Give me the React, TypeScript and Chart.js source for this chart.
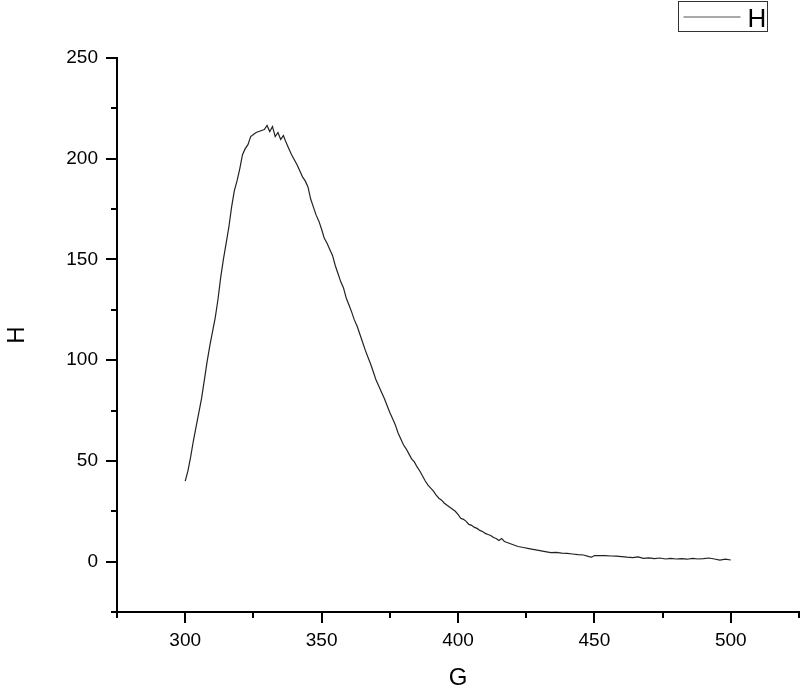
import React, { useEffect, useRef } from "react";
import { Chart, registerables } from "chart.js";

Chart.register(...registerables);

const gValues: number[] = [
  300, 301, 302, 303, 304, 305, 306, 307, 308, 309,
  310, 311, 312, 313, 314, 315, 316, 317, 318, 319,
  320, 321, 322, 323, 324, 325, 326, 327, 328, 329,
  330, 331, 332, 333, 334, 335, 336, 337, 338, 339,
  340, 341, 342, 343, 344, 345, 346, 347, 348, 349,
  350, 351, 352, 353, 354, 355, 356, 357, 358, 359,
  360, 361, 362, 363, 364, 365, 366, 367, 368, 369,
  370, 371, 372, 373, 374, 375, 376, 377, 378, 379,
  380, 381, 382, 383, 384, 385, 386, 387, 388, 389,
  390, 391, 392, 393, 394, 395, 396, 397, 398, 399,
  400, 401, 402, 403, 404, 405, 406, 407, 408, 409,
  410, 411, 412, 413, 414, 415, 416, 417, 418, 419,
  420, 422, 424, 426, 428, 430, 432, 434, 436, 438,
  440, 442, 444, 446, 448, 449, 450, 452, 454, 456,
  458, 460, 462, 464, 466, 468, 470, 472, 474, 476,
  478, 480, 482, 484, 486, 488, 490, 492, 494, 496,
  498, 500,
];

const hValues: number[] = [
  40, 45, 52, 60, 67, 74, 81, 90, 99, 107,
  114, 121, 130, 141, 150, 158, 166, 176, 184, 189,
  195, 202, 205, 207, 211, 212, 213, 213.5, 214, 214.5,
  216.5, 213.5, 216, 211, 213, 209.5, 211.5, 208, 205, 202,
  199.5, 197, 194, 191, 189, 186, 180, 176, 172, 169,
  165, 160.5, 158, 155, 152, 147, 143, 139, 136, 131,
  127.5, 124, 120, 117, 113, 109, 105, 101.5, 98, 94,
  90, 87, 84, 81, 77.5, 74, 71, 68, 64, 61,
  58, 56, 53.5, 51, 49.5, 47, 45, 42.5, 40, 38,
  36.5, 35, 33, 31.5, 30.5, 29, 28, 27, 26, 25,
  23.5, 21.5, 21, 20, 18.5, 18, 17, 16.5, 15.5, 15,
  14, 13.5, 13, 12, 11.5, 10.5, 11.5, 10, 9.5, 9,
  8.5, 7.5, 7, 6.5, 6, 5.5, 5, 4.5, 4.6, 4.2,
  4.1, 3.8, 3.5, 3.3, 2.5, 2.2, 3, 3, 3, 2.8,
  2.7, 2.5, 2.2, 2.0, 2.4, 1.6, 1.9, 1.5, 1.8, 1.3,
  1.6, 1.3, 1.5, 1.2, 1.6, 1.3, 1.5, 1.8, 1.3, 0.8,
  1.2, 0.8,
];

const xMajorTicks: number[] = [300, 350, 400, 450, 500];
const xMinorTicks: number[] = [275, 325, 375, 425, 475, 525];
const yMajorTicks: number[] = [0, 50, 100, 150, 200, 250];
const yMinorTicks: number[] = [-25, 25, 75, 125, 175, 225];

const seriesName = "H";
const xTitle = "G";
const yTitle = "H";

const FONT = "'Liberation Sans', Arial, sans-serif";

export default function App() {
  const canvasRef = useRef<HTMLCanvasElement | null>(null);

  useEffect(() => {
    document.body.style.margin = "0";
    const canvas = canvasRef.current;
    if (!canvas) return;

    const minorTicksPlugin = {
      id: "minorTicks",
      afterDraw(chart: any) {
        const ctx = chart.ctx;
        const xs = chart.scales.x;
        const ys = chart.scales.y;
        const area = chart.chartArea;
        ctx.save();
        ctx.strokeStyle = "#000";
        ctx.lineWidth = 2;
        ctx.beginPath();
        xMinorTicks.forEach((v) => {
          const px = Math.round(xs.getPixelForValue(v));
          ctx.moveTo(px, area.bottom);
          ctx.lineTo(px, area.bottom + 6);
        });
        yMinorTicks.forEach((v) => {
          const py = Math.round(ys.getPixelForValue(v));
          ctx.moveTo(area.left, py);
          ctx.lineTo(area.left - 6, py);
        });
        ctx.stroke();

        // legend box
        const bx = 678.5;
        const by = 1.5;
        const bw = 89;
        const bh = 30;
        ctx.lineWidth = 1;
        ctx.strokeStyle = "#333";
        ctx.strokeRect(bx, by, bw, bh);
        ctx.strokeStyle = "#555";
        ctx.lineWidth = 1.2;
        ctx.beginPath();
        ctx.moveTo(bx + 5, by + 15.5);
        ctx.lineTo(bx + 62, by + 15.5);
        ctx.stroke();
        ctx.fillStyle = "#000";
        ctx.font = `26px ${FONT}`;
        ctx.textBaseline = "alphabetic";
        ctx.textAlign = "left";
        ctx.fillText(seriesName, bx + 69, by + 25.5);
        ctx.restore();
      },
    };

    const chart = new Chart(canvas, {
      type: "line",
      data: {
        datasets: [
          {
            label: seriesName,
            data: gValues.map((g, i) => ({ x: g, y: hValues[i] })),
            borderColor: "#222",
            borderWidth: 1.2,
            pointRadius: 0,
            tension: 0,
            fill: false,
          },
        ],
      },
      options: {
        responsive: false,
        animation: false,
        layout: { padding: { left: 0, top: 58, right: 1, bottom: 0 } },
        plugins: {
          legend: { display: false },
          tooltip: { enabled: false },
        },
        scales: {
          x: {
            type: "linear",
            min: 275,
            max: 525,
            afterBuildTicks: (scale: any) => {
              scale.ticks = xMajorTicks.map((v) => ({ value: v }));
            },
            afterFit: (scale: any) => {
              scale.height = 82;
            },
            grid: {
              display: true,
              drawOnChartArea: false,
              drawTicks: true,
              tickLength: 11,
              color: "#000",
              lineWidth: 2,
            },
            border: { display: true, color: "#000", width: 2 },
            ticks: {
              color: "#000",
              padding: 6,
              maxRotation: 0,
              font: { family: FONT, size: 19 },
              callback: (v: any) => String(v),
            },
            title: {
              display: true,
              text: xTitle,
              color: "#000",
              font: { family: FONT, size: 24 },
              padding: { top: 0, bottom: 1 },
            },
          },
          y: {
            type: "linear",
            min: -25,
            max: 250,
            afterBuildTicks: (scale: any) => {
              scale.ticks = yMajorTicks.map((v) => ({ value: v }));
            },
            afterFit: (scale: any) => {
              scale.width = 117;
            },
            grid: {
              display: true,
              drawOnChartArea: false,
              drawTicks: true,
              tickLength: 11,
              color: "#000",
              lineWidth: 2,
            },
            border: { display: true, color: "#000", width: 2 },
            ticks: {
              color: "#000",
              padding: 8,
              font: { family: FONT, size: 19 },
              callback: (v: any) => String(v),
            },
            title: {
              display: true,
              text: yTitle,
              color: "#000",
              font: { family: FONT, size: 24 },
              padding: { top: 3, bottom: 0 },
            },
          },
        },
      },
      plugins: [minorTicksPlugin],
    });

    return () => {
      chart.destroy();
    };
  }, []);

  return (
    <div style={{ position: "absolute", left: 0, top: 0, width: 800, height: 694 }}>
      <canvas ref={canvasRef} width={800} height={694} style={{ width: 800, height: 694 }} />
    </div>
  );
}
